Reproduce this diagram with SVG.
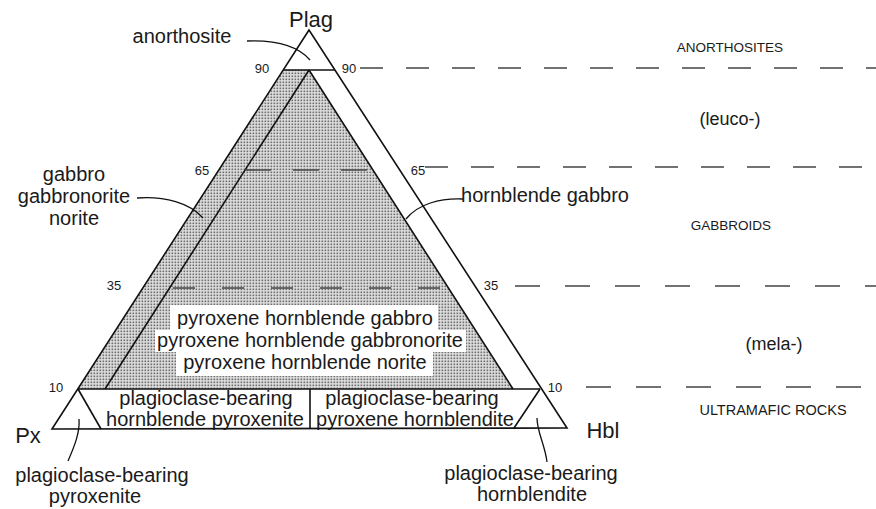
<svg xmlns="http://www.w3.org/2000/svg" width="876" height="509" viewBox="0 0 876 509">
<defs>
<pattern id="dots" width="3" height="3" patternUnits="userSpaceOnUse">
<rect width="3" height="3" fill="#e2e2e2"/>
<rect x="0.5" y="0.5" width="1.7" height="1.7" fill="#6e6e6e"/>
</pattern>
</defs>
<style>
.ln{fill:none;stroke:#111;stroke-width:1.6}
.ld{fill:none;stroke:#111;stroke-width:1.3}
.dash{fill:none;stroke:#444;stroke-width:1.6}
.lab{font-family:"Liberation Sans",Arial,sans-serif;font-size:20px;fill:#1a1a1a;text-anchor:middle}
.ax{font-family:"Liberation Sans",Arial,sans-serif;font-size:22px;fill:#1a1a1a;text-anchor:middle}
.tk{font-family:"Liberation Sans",Arial,sans-serif;font-size:13px;fill:#1a1a1a;text-anchor:middle}
.cap{font-family:"Liberation Sans",Arial,sans-serif;font-size:13.5px;fill:#1a1a1a;text-anchor:middle}
.par{font-family:"Liberation Sans",Arial,sans-serif;font-size:18px;fill:#1a1a1a;text-anchor:middle}
</style>
<rect width="876" height="509" fill="#fff"/>
<g id="shaded-field">
<polygon points="283,70 309,70 513,389 78,389" fill="url(#dots)"/>
<rect x="170" y="305" width="268" height="25" fill="#fff"/>
<rect x="155" y="330" width="311" height="22" fill="#fff"/>
<rect x="176" y="352" width="257" height="24" fill="#fff"/>
</g>
<g id="triangle">
<polygon class="ln" points="309,30 52,429 567,428"/>
<line class="ln" x1="283" y1="70" x2="335" y2="70"/>
<line class="ln" x1="309" y1="70" x2="105" y2="389"/>
<line class="ln" x1="309" y1="70" x2="513" y2="389"/>
<line class="ln" x1="78" y1="389" x2="540" y2="389"/>
<line class="ln" x1="78" y1="389" x2="101" y2="429"/>
<line class="ln" x1="540" y1="389" x2="514" y2="428"/>
<line class="ln" x1="310" y1="389" x2="310" y2="429"/>
<line class="dash" x1="245" y1="170" x2="373" y2="170" stroke-dasharray="26 22"/>
<line class="dash" x1="173" y1="288" x2="448" y2="288" stroke-dasharray="22 27"/>
</g>
<g id="connectors">
<line class="dash" x1="360" y1="68" x2="876" y2="68" stroke-dasharray="23 23"/>
<line class="dash" x1="425" y1="167" x2="876" y2="167" stroke-dasharray="23 23"/>
<line class="dash" x1="515" y1="286" x2="876" y2="286" stroke-dasharray="25 25"/>
<line class="dash" x1="586" y1="387" x2="876" y2="387" stroke-dasharray="25 25"/>
<path class="ld" d="M247,41 C275,40 298,46 310,60"/>
<path class="ld" d="M137,198 C165,196 190,203 203,218"/>
<path class="ld" d="M463,199 C440,198 418,204 406,219"/>
<path class="ld" d="M68,461 C75,445 80,432 79,419"/>
<path class="ld" d="M547,462 C545,445 537,432 537,418"/>
</g>
<g id="apex-labels">
<text class="ax" x="311" y="27">Plag</text>
<text class="ax" x="28" y="443">Px</text>
<text class="ax" x="603" y="438">Hbl</text>
</g>
<g id="ticks">
<text class="tk" x="262" y="73">90</text>
<text class="tk" x="349" y="73">90</text>
<text class="tk" x="202" y="175">65</text>
<text class="tk" x="418" y="175">65</text>
<text class="tk" x="114" y="290">35</text>
<text class="tk" x="491" y="290">35</text>
<text class="tk" x="56" y="392">10</text>
<text class="tk" x="555" y="392">10</text>
</g>
<g id="node-anorthosite"><text class="lab" x="182" y="43">anorthosite</text></g>
<g id="node-gabbro">
<text class="lab" x="74" y="181">gabbro</text>
<text class="lab" x="74" y="203">gabbronorite</text>
<text class="lab" x="74" y="225">norite</text>
</g>
<g id="node-hornblende-gabbro"><text class="lab" x="545" y="202">hornblende gabbro</text></g>
<g id="node-pyroxene-hornblende">
<text class="lab" x="305" y="325">pyroxene hornblende gabbro</text>
<text class="lab" x="310" y="347">pyroxene hornblende gabbronorite</text>
<text class="lab" x="305" y="369">pyroxene hornblende norite</text>
</g>
<g id="node-pl-hbl-pyroxenite">
<text class="lab" x="206" y="405">plagioclase-bearing</text>
<text class="lab" x="205" y="426">hornblende pyroxenite</text>
</g>
<g id="node-pl-px-hornblendite">
<text class="lab" x="412" y="405">plagioclase-bearing</text>
<text class="lab" x="415" y="426">pyroxene hornblendite</text>
</g>
<g id="node-pl-pyroxenite">
<text class="lab" x="102" y="482">plagioclase-bearing</text>
<text class="lab" x="95" y="503">pyroxenite</text>
</g>
<g id="node-pl-hornblendite">
<text class="lab" x="531" y="480">plagioclase-bearing</text>
<text class="lab" x="532" y="501">hornblendite</text>
</g>
<g id="node-classes">
<text class="cap" x="730" y="52">ANORTHOSITES</text>
<text class="par" x="730" y="125">(leuco-)</text>
<text class="cap" x="731" y="230">GABBROIDS</text>
<text class="par" x="774" y="350">(mela-)</text>
<text class="cap" x="773" y="415" style="font-size:14.5px">ULTRAMAFIC ROCKS</text>
</g>
</svg>
